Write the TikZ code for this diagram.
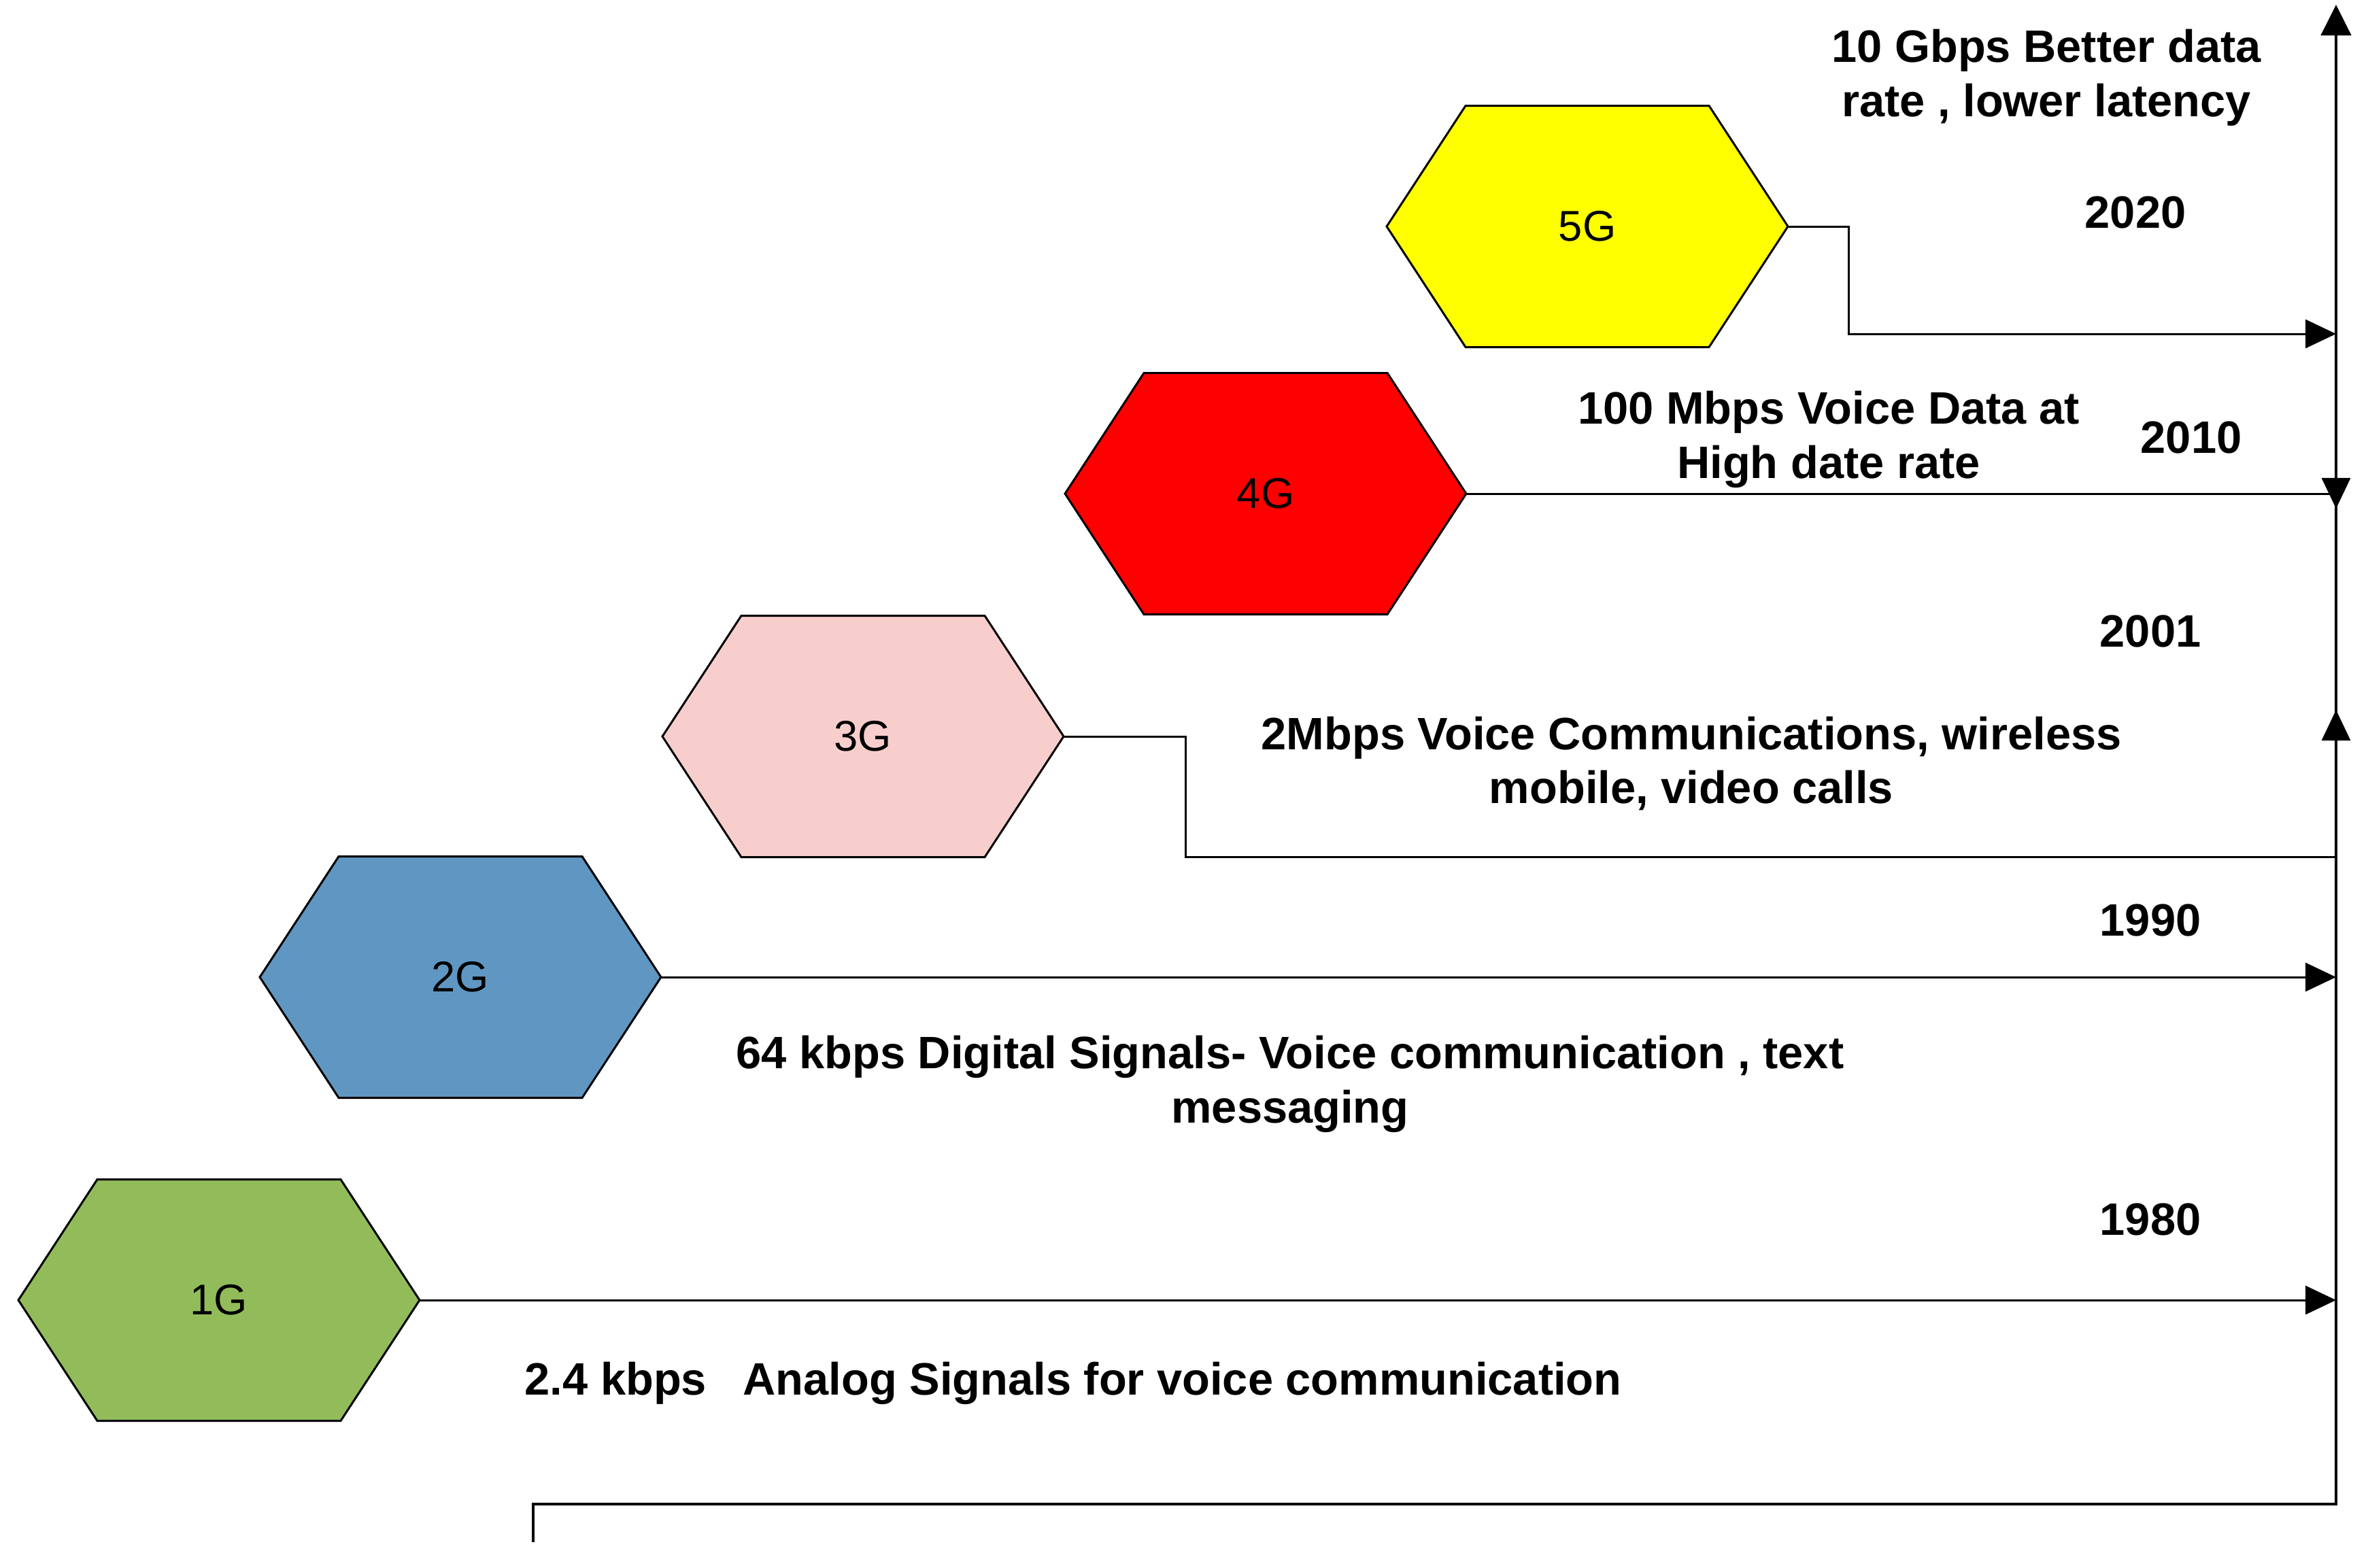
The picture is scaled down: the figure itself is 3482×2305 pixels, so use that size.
\documentclass[tikz,border=0pt]{standalone}
\usepackage{fontspec}
\setmainfont{Liberation Sans}
\usetikzlibrary{arrows.meta}
\definecolor{gOne}{HTML}{92BC5A}
\definecolor{gTwo}{HTML}{6096C2}
\definecolor{gThree}{HTML}{F8CECC}
\definecolor{gFour}{HTML}{FF0000}
\definecolor{gFive}{HTML}{FFFF00}
\tikzset{
  hexline/.style={line width=0.85pt, draw=black, line join=miter},
  hexlabel/.style={minimum width=5.9cm, minimum height=3.55cm, inner sep=0pt, font=\fontsize{18}{21}\selectfont},
  conn/.style={line width=0.85pt, line join=miter, -{Triangle[length=0.45cm,width=0.42cm]}},
  axisline/.style={line width=1.3pt, line join=miter, -{Triangle[length=0.45cm,width=0.44cm]}},
  desc/.style={inner sep=0pt, align=center, font=\fontsize{19}{22.7}\selectfont\bfseries},
}
\newcommand\hexg[5]{%
  \filldraw[hexline, fill=#4] (#2-295,#3) -- (#2-179,#3-177.5) -- (#2+179,#3-177.5) -- (#2+295,#3) -- (#2+179,#3+177.5) -- (#2-179,#3+177.5) -- cycle;
  \node[hexlabel] (#1) at (#2,#3) {#5};
}
\begin{document}
\begin{tikzpicture}[x=0.01cm,y=-0.01cm]
\useasboundingbox (0,0) rectangle (3482,2305);

% axis
\coordinate (bstart) at (784,2268);
\coordinate (bcorner) at (784,2212);
\coordinate (axbot) at (3435,2212);
\coordinate (axtop) at (3435,7);
\draw[axisline] (bstart) -- (bcorner) -- (axbot) -- (axtop);

% hexagons
\hexg{g1}{322}{1912}{gOne}{1G}
\hexg{g2}{677}{1437}{gTwo}{2G}
\hexg{g3}{1269}{1083}{gThree}{3G}
\hexg{g4}{1861}{726}{gFour}{4G}
\hexg{g5}{2334}{333}{gFive}{5G}

% connectors
\draw[conn] (g1.east) -- (g1.east -| axbot);
\draw[conn] (g2.east) -- (g2.east -| axbot);
\coordinate (e3) at (1743,1260);
\coordinate (up3) at (3435,1044);
\draw[conn] (g3.east) -| (e3) -- (e3 -| axbot) -- (up3);
\coordinate (dn4) at (3435,748);
\draw[conn] (g4.east) -- (g4.east -| axbot) -- (dn4);
\coordinate (e5) at (2718,491);
\draw[conn] (g5.east) -| (e5) -- (e5 -| axbot);

% texts
\node[desc] (t5) at (3009,114) {10 Gbps Better data\\rate , lower latency};
\node[desc] (y5) at (3140,312) {2020};
\node[desc] (t4) at (2689,646) {100 Mbps Voice Data at\\High date rate};
\node[desc] (y4) at (3222,643) {2010};
\node[desc] (y3) at (3162,928) {2001};
\node[desc] (t3) at (2487,1123) {2Mbps Voice Communications, wireless\\mobile, video calls};
\node[desc] (y2) at (3162,1353) {1990};
\node[desc] (t2) at (1897,1594) {64 kbps Digital Signals- Voice communication , text\\messaging};
\node[desc] (y1) at (3162,1793) {1980};
\node[desc, anchor=west] (t1) at (771,2034) {2.4 kbps\hspace{0.8em}Analog Signals for voice communication};
\end{tikzpicture}
\end{document}
